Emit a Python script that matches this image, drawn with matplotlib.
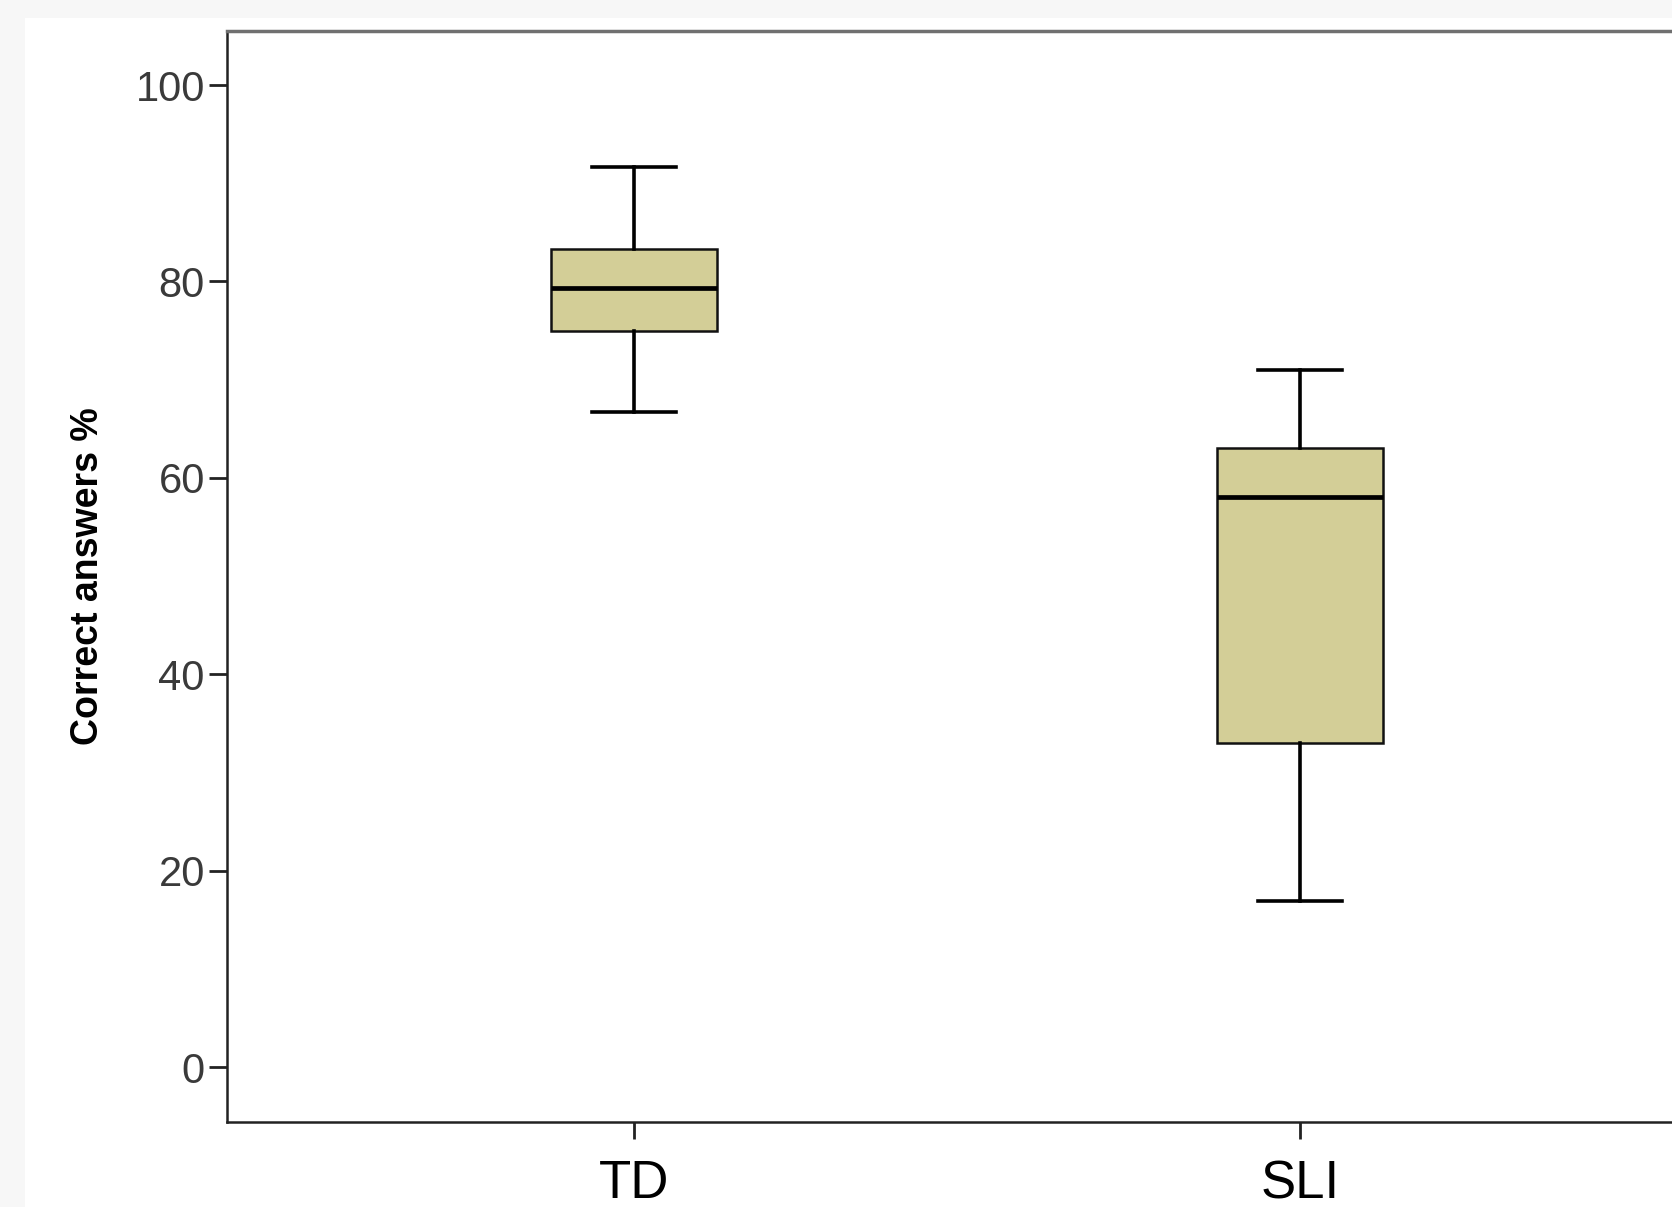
import matplotlib.pyplot as plt
from matplotlib.patches import Rectangle

# group names and box statistics
groups = ['TD', 'SLI']
whisker_low = [66.7, 16.9]
q1 = [74.9, 33.0]
median = [79.3, 58.0]
q3 = [83.3, 63.0]
whisker_high = [91.6, 71.0]
yticks = [0, 20, 40, 60, 80, 100]

plt.rcParams['font.family'] = ['Liberation Sans', 'DejaVu Sans']

fig = plt.figure(figsize=(16.72, 12.07), dpi=100, facecolor='#f7f7f7')
# white panel inside the grey frame
fig.patches.append(Rectangle((25/1672, 0), 1, 1 - 18/1207, transform=fig.transFigure,
                             facecolor='white', edgecolor='none', zorder=-10))

ax = fig.add_axes([227/1672, 85/1207, 1480/1672, 1091/1207])
ax.set_facecolor('white')

stats = []
for i, g in enumerate(groups):
    stats.append(dict(label=g, whislo=whisker_low[i], q1=q1[i], med=median[i],
                      q3=q3[i], whishi=whisker_high[i], fliers=[]))

ax.bxp(stats, positions=range(len(groups)), widths=0.25, patch_artist=True,
       showfliers=False,
       boxprops=dict(facecolor='#d3ce97', edgecolor='#111111', linewidth=1.8),
       medianprops=dict(color='black', linewidth=3.4),
       whiskerprops=dict(color='black', linewidth=2.6),
       capprops=dict(color='black', linewidth=2.6),
       capwidths=0.125)

ax.set_xlim(-0.611, 1.611)
ax.set_ylim(-5.6, 105.5)
ax.set_yticks(yticks)
ax.set_yticklabels([str(t) for t in yticks], fontsize=30, color='#3a3a3a')
ax.set_xticks(range(len(groups)))
ax.set_xticklabels(groups, fontsize=38, color='black')
ax.tick_params(axis='y', length=13, width=2, color='#222222', pad=3)
ax.tick_params(axis='x', length=12, width=2, color='#222222', pad=15)

ax.set_ylabel('Correct answers %', fontsize=27, fontweight='bold', labelpad=21)

for s in ['left', 'bottom']:
    ax.spines[s].set_color('#222222')
    ax.spines[s].set_linewidth(1.8)
ax.spines['top'].set_color('#707070')
ax.spines['top'].set_linewidth(2.5)
ax.spines['right'].set_visible(False)

fig.savefig('out.png', dpi=100, facecolor=fig.get_facecolor())
